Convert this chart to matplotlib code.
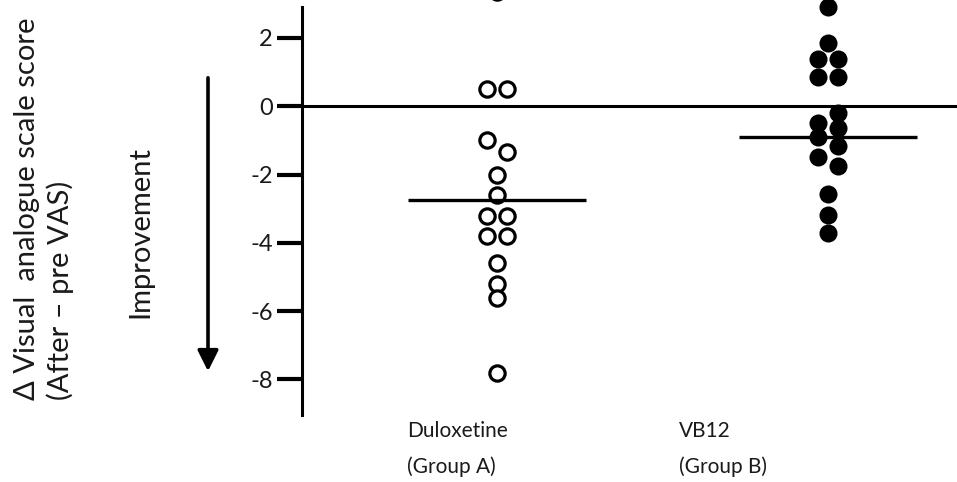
import matplotlib
matplotlib.use("Agg")
import matplotlib.pyplot as plt
import numpy as np

plt.rcParams["font.family"] = ["Lato", "DejaVu Sans"]
plt.rcParams["axes.unicode_minus"] = False

# Change in VAS score (after - pre) per patient
duloxetine = [3.35, 0.5, 0.5, -1.0, -1.35, -2.0, -2.6, -3.2, -3.2, -3.8, -3.8,
              -4.6, -5.2, -5.6, -7.8]
vb12 = [2.9, 1.84, 1.37, 1.37, 0.85, 0.85, -0.2, -0.5, -0.65, -0.9, -1.15,
        -1.5, -1.75, -2.57, -3.19, -3.7]
group_means = [-2.75, -0.9]
group_labels = ["Duloxetine\n(Group A)", "VB12\n(Group B)"]
yticks = [2, 0, -2, -4, -6, -8]

# side-by-side placement of overlapping dots (-1 left, 0 centre, 1 right)
dul_side = [0, -1, 1, -1, 1, 0, 0, -1, 1, -1, 1, 0, 0, 0, 0]
vb_side = [0, 0, -1, 1, -1, 1, 1, -1, 1, -1, 1, -1, 1, 0, 0, 0]

fig = plt.figure(figsize=(9.57, 4.82), dpi=100)
ax = fig.add_axes([0.3156, 0.139, 0.6844, 0.861])

dx = 0.03
ax.plot(1 + dx * np.array(dul_side), duloxetine, "o", ms=11, mfc="white",
        mec="black", mew=2.3, zorder=3)
ax.plot(2 + dx * np.array(vb_side), vb12, "o", ms=13, mfc="black",
        mec="black", mew=0, zorder=3)

for i, m in enumerate(group_means):
    ax.hlines(m, i + 1 - 0.27, i + 1 + 0.27, color="black", lw=2.4, zorder=4)

ax.axhline(0, color="black", lw=2.2, zorder=2)

ax.set_xlim(0.411, 2.39)
ax.set_ylim(-9.04, 3.11)
ax.set_yticks(yticks)
ax.set_yticklabels([str(t) for t in yticks], fontsize=17, color="#1a1a1a")
ax.tick_params(axis="y", length=18, width=3, pad=3, direction="out")
ax.set_xticks([])
for s in ["top", "right", "bottom"]:
    ax.spines[s].set_visible(False)
ax.spines["left"].set_linewidth(2.2)
ax.spines["left"].set_bounds(-9.04, 2.9)

# group names under the dots
ax.text(0.16, -0.015, group_labels[0], transform=ax.transAxes, ha="left",
        va="top", fontsize=15, linespacing=1.9, color="#1a1a1a")
ax.text(0.575, -0.015, group_labels[1], transform=ax.transAxes, ha="left",
        va="top", fontsize=15, linespacing=1.9, color="#1a1a1a")

fig.text(0.046, 1 - 400 / 482, "Δ Visual  analogue scale score\n(After – pre VAS)",
         rotation=90, ha="center", va="bottom", multialignment="left",
         fontsize=21, linespacing=1.3, color="#1a1a1a")
fig.text(0.147, 1 - 232 / 482, "Improvement", rotation=90, ha="center",
         va="center", fontsize=21, color="#1a1a1a")

# arrow pointing to improvement (lower scores)
fig.patches.append(matplotlib.patches.FancyArrowPatch(
    (208 / 957, 1 - 75 / 482), (208 / 957, 1 - 374 / 482),
    transform=fig.transFigure, arrowstyle="-|>,head_length=0.9,head_width=0.45",
    mutation_scale=14, lw=2.6, color="black"))

fig.savefig("out.png", dpi=100)
